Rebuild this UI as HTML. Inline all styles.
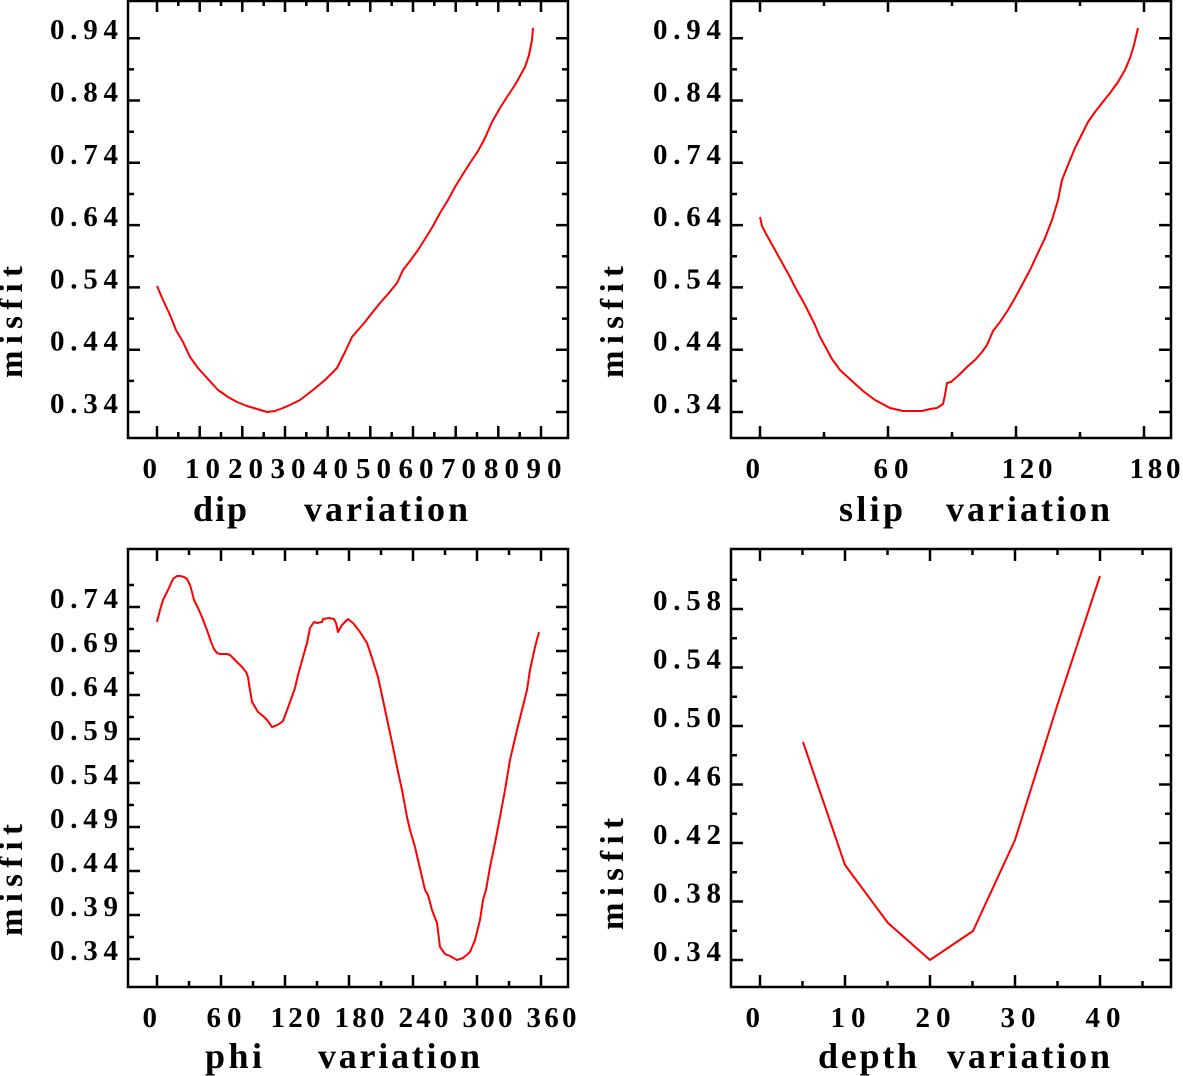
<!DOCTYPE html>
<html><head><meta charset="utf-8"><style>
html,body{margin:0;padding:0;background:#fff;}
svg{display:block;}
text{font-family:"Liberation Serif","DejaVu Serif",serif;font-weight:bold;fill:#000;}
.t{font-size:29px;}
.ti{font-size:36px;}
.m{font-size:33px;}
</style></head><body>
<svg width="1183" height="1076" viewBox="0 0 1183 1076" xmlns="http://www.w3.org/2000/svg">
<rect width="1183" height="1076" fill="#fff"/>
<g fill="none" stroke="#000" stroke-width="2.5">
<!-- boxes -->
<path d="M128,1 H568 V438 H128 Z"/>
<path d="M731,1 H1171 V438 H731 Z"/>
<path d="M128,549 H568 V987 H128 Z"/>
<path d="M731,549 H1171 V987 H731 Z"/>
<!-- TL y ticks -->
<path d="M128,412h12M128,349.7h12M128,287.4h12M128,225.1h12M128,162.8h12M128,100.5h12M128,38.2h12
M128,380.9h6M128,318.6h6M128,256.3h6M128,194h6M128,131.7h6M128,69.4h6
M568,412h-12M568,349.7h-12M568,287.4h-12M568,225.1h-12M568,162.8h-12M568,100.5h-12M568,38.2h-12
M568,380.9h-6M568,318.6h-6M568,256.3h-6M568,194h-6M568,131.7h-6M568,69.4h-6"/>
<!-- TL x ticks -->
<path d="M157,438v-12M199.7,438v-12M242.3,438v-12M285,438v-12M327.7,438v-12M370.3,438v-12M413,438v-12M455.7,438v-12M498.3,438v-12M541,438v-12
M178.3,438v-6M221,438v-6M263.7,438v-6M306.3,438v-6M349,438v-6M391.7,438v-6M434.3,438v-6M477,438v-6M519.7,438v-6
M157,0v12M199.7,0v12M242.3,0v12M285,0v12M327.7,0v12M370.3,0v12M413,0v12M455.7,0v12M498.3,0v12M541,0v12
M178.3,0v6M221,0v6M263.7,0v6M306.3,0v6M349,0v6M391.7,0v6M434.3,0v6M477,0v6M519.7,0v6"/>
<!-- TR y ticks -->
<path d="M731,412h12M731,349.7h12M731,287.4h12M731,225.1h12M731,162.8h12M731,100.5h12M731,38.2h12
M731,380.9h6M731,318.6h6M731,256.3h6M731,194h6M731,131.7h6M731,69.4h6
M1171,412h-12M1171,349.7h-12M1171,287.4h-12M1171,225.1h-12M1171,162.8h-12M1171,100.5h-12M1171,38.2h-12
M1171,380.9h-6M1171,318.6h-6M1171,256.3h-6M1171,194h-6M1171,131.7h-6M1171,69.4h-6"/>
<!-- TR x ticks -->
<path d="M760,438v-12M888,438v-12M1016,438v-12M1144,438v-12M824,438v-6M952,438v-6M1080,438v-6
M760,0v12M888,0v12M1016,0v12M1144,0v12M824,0v6M952,0v6M1080,0v6"/>
<!-- BL y ticks -->
<path d="M128,959h12M128,915h12M128,871h12M128,827h12M128,783h12M128,739h12M128,695h12M128,651h12M128,607h12
M128,937h6M128,893h6M128,849h6M128,805h6M128,761h6M128,717h6M128,673h6M128,629h6M128,585h6
M568,959h-12M568,915h-12M568,871h-12M568,827h-12M568,783h-12M568,739h-12M568,695h-12M568,651h-12M568,607h-12
M568,937h-6M568,893h-6M568,849h-6M568,805h-6M568,761h-6M568,717h-6M568,673h-6M568,629h-6M568,585h-6"/>
<!-- BL x ticks -->
<path d="M157,987v-12M221,987v-12M285,987v-12M349,987v-12M413,987v-12M477,987v-12M541,987v-12
M189,987v-6M253,987v-6M317,987v-6M381,987v-6M445,987v-6M509,987v-6
M157,549v12M221,549v12M285,549v12M349,549v12M413,549v12M477,549v12M541,549v12
M189,549v6M253,549v6M317,549v6M381,549v6M445,549v6M509,549v6"/>
<!-- BR y ticks -->
<path d="M731,960h12M731,901.5h12M731,843h12M731,784.5h12M731,726h12M731,667.5h12M731,609h12
M731,930.8h6M731,872.3h6M731,813.8h6M731,755.3h6M731,696.8h6M731,638.3h6M731,579.8h6
M1171,960h-12M1171,901.5h-12M1171,843h-12M1171,784.5h-12M1171,726h-12M1171,667.5h-12M1171,609h-12
M1171,930.8h-6M1171,872.3h-6M1171,813.8h-6M1171,755.3h-6M1171,696.8h-6M1171,638.3h-6M1171,579.8h-6"/>
<!-- BR x ticks -->
<path d="M760,987v-12M845,987v-12M930,987v-12M1015,987v-12M1100,987v-12
M802.5,987v-6M887.5,987v-6M972.5,987v-6M1057.5,987v-6M1142.5,987v-6
M760,549v12M845,549v12M930,549v12M1015,549v12M1100,549v12
M802.5,549v6M887.5,549v6M972.5,549v6M1057.5,549v6M1142.5,549v6"/>
</g>

<!-- curves -->
<g fill="none" stroke="#ff0000" stroke-width="2" stroke-linejoin="round">
<polyline points="157,286 163,300 170,315 176,330 183,342 190,357 198,368 207,378 218,390 228,397 237,402 247,406 257,409 267,412 275,411 283,408 292,404 300,400 313,390 325,380 337,368 345,352 352,337 358,330 365,322 372,313 380,303 388,294 397,283 403,270 410,261 418,250 425,239 433,226 440,213 448,200 455,187 463,174 470,163 478,151 485,138 492,122 500,108 507,97 515,85 520,76 525,67 529,55 532,40 533,28"/>
<polyline points="760,217 762,226 765,232 770,241 775,250 780,259 785,268 790,277 795,287 800,296 805,305 810,315 815,325 820,337 826,348 832,359 840,370 852,381 863,391 875,400 890,408 903,411 915,411 922,411 930,409 937,408 943,404 945,395 947,383 951,382 959,375 967,367 975,360 982,352 987,345 993,331 1000,322 1008,310 1015,298 1022,285 1030,270 1037,255 1045,238 1052,220 1058,200 1062,180 1068,165 1075,148 1082,134 1088,122 1095,112 1102,103 1110,93 1118,82 1125,70 1130,58 1134,45 1138,28"/>
<polyline points="157,622 160,610 163,600 168,590 173,579 177,576 180,576 184,577 187,579 190,585 192,592 194,600 198,608 202,617 205,625 208,633 211,642 214,649 217,653 220,654 223,654 227,654 230,655 234,659 238,663 242,667 246,672 248,677 249,684 250,690 251,696 252,702 255,707 258,712 263,716 267,720 270,724 272,727 275,726 279,724 283,721 286,713 290,702 295,688 298,675 303,657 307,643 310,628 314,622 317,623 322,622 323,619 329,618 334,619 336,623 338,632 342,625 348,619 353,623 360,632 367,643 372,658 378,677 383,700 390,733 393,747 397,767 402,790 407,817 410,830 415,847 418,860 422,877 425,890 428,895 432,910 437,923 440,947 445,954 450,956 457,960 463,958 470,952 475,940 480,920 483,900 486,890 490,867 495,843 500,817 505,790 510,760 517,730 522,710 527,690 530,670 535,647 539,632"/>
<polyline points="803,742 845,865 888,923 930,960 973,931 1015,840 1058,703 1100,576"/>
</g>

<!-- TL labels -->
<g class="t">
<text x="50" y="413" textLength="68" lengthAdjust="spacing">0.34</text>
<text x="50" y="350.7" textLength="68" lengthAdjust="spacing">0.44</text>
<text x="50" y="288.4" textLength="68" lengthAdjust="spacing">0.54</text>
<text x="50" y="226.1" textLength="68" lengthAdjust="spacing">0.64</text>
<text x="50" y="163.8" textLength="68" lengthAdjust="spacing">0.74</text>
<text x="50" y="101.5" textLength="68" lengthAdjust="spacing">0.84</text>
<text x="50" y="39.2" textLength="68" lengthAdjust="spacing">0.94</text>
<text x="142.5" y="478">0</text>
<text x="185" y="478" textLength="35" lengthAdjust="spacing">10</text>
<text x="228" y="478" textLength="35" lengthAdjust="spacing">20</text>
<text x="270.5" y="478" textLength="35" lengthAdjust="spacing">30</text>
<text x="313" y="478" textLength="35" lengthAdjust="spacing">40</text>
<text x="356" y="478" textLength="35" lengthAdjust="spacing">50</text>
<text x="398.5" y="478" textLength="35" lengthAdjust="spacing">60</text>
<text x="441" y="478" textLength="35" lengthAdjust="spacing">70</text>
<text x="484" y="478" textLength="35" lengthAdjust="spacing">80</text>
<text x="526.5" y="478" textLength="35" lengthAdjust="spacing">90</text>
</g>
<!-- TR labels -->
<g class="t">
<text x="653" y="413" textLength="68" lengthAdjust="spacing">0.34</text>
<text x="653" y="350.7" textLength="68" lengthAdjust="spacing">0.44</text>
<text x="653" y="288.4" textLength="68" lengthAdjust="spacing">0.54</text>
<text x="653" y="226.1" textLength="68" lengthAdjust="spacing">0.64</text>
<text x="653" y="163.8" textLength="68" lengthAdjust="spacing">0.74</text>
<text x="653" y="101.5" textLength="68" lengthAdjust="spacing">0.84</text>
<text x="653" y="39.2" textLength="68" lengthAdjust="spacing">0.94</text>
<text x="745.5" y="478">0</text>
<text x="873.5" y="478" textLength="35" lengthAdjust="spacing">60</text>
<text x="1001.5" y="478" textLength="51" lengthAdjust="spacing">120</text>
<text x="1129.5" y="478" textLength="51" lengthAdjust="spacing">180</text>
</g>
<!-- BL labels -->
<g class="t">
<text x="50" y="960" textLength="68" lengthAdjust="spacing">0.34</text>
<text x="50" y="916" textLength="68" lengthAdjust="spacing">0.39</text>
<text x="50" y="872" textLength="68" lengthAdjust="spacing">0.44</text>
<text x="50" y="828" textLength="68" lengthAdjust="spacing">0.49</text>
<text x="50" y="784" textLength="68" lengthAdjust="spacing">0.54</text>
<text x="50" y="740" textLength="68" lengthAdjust="spacing">0.59</text>
<text x="50" y="696" textLength="68" lengthAdjust="spacing">0.64</text>
<text x="50" y="652" textLength="68" lengthAdjust="spacing">0.69</text>
<text x="50" y="608" textLength="68" lengthAdjust="spacing">0.74</text>
<text x="142.5" y="1027">0</text>
<text x="206.5" y="1027" textLength="35" lengthAdjust="spacing">60</text>
<text x="270.5" y="1027" textLength="50" lengthAdjust="spacing">120</text>
<text x="334.5" y="1027" textLength="50" lengthAdjust="spacing">180</text>
<text x="398.5" y="1027" textLength="50" lengthAdjust="spacing">240</text>
<text x="462.5" y="1027" textLength="50" lengthAdjust="spacing">300</text>
<text x="526.5" y="1027" textLength="50" lengthAdjust="spacing">360</text>
</g>
<!-- BR labels -->
<g class="t">
<text x="653" y="961" textLength="68" lengthAdjust="spacing">0.34</text>
<text x="653" y="902.5" textLength="68" lengthAdjust="spacing">0.38</text>
<text x="653" y="844" textLength="68" lengthAdjust="spacing">0.42</text>
<text x="653" y="785.5" textLength="68" lengthAdjust="spacing">0.46</text>
<text x="653" y="727" textLength="68" lengthAdjust="spacing">0.50</text>
<text x="653" y="668.5" textLength="68" lengthAdjust="spacing">0.54</text>
<text x="653" y="610" textLength="68" lengthAdjust="spacing">0.58</text>
<text x="745.5" y="1027">0</text>
<text x="830.5" y="1027" textLength="35" lengthAdjust="spacing">10</text>
<text x="915.5" y="1027" textLength="35" lengthAdjust="spacing">20</text>
<text x="1000.5" y="1027" textLength="35" lengthAdjust="spacing">30</text>
<text x="1085.5" y="1027" textLength="35" lengthAdjust="spacing">40</text>
</g>

<!-- axis titles -->
<g class="ti">
<text x="193" y="521" textLength="54" lengthAdjust="spacing">dip</text>
<text x="304" y="521" textLength="164" lengthAdjust="spacing">variation</text>
<text x="839" y="521" textLength="64" lengthAdjust="spacing">slip</text>
<text x="946" y="521" textLength="164" lengthAdjust="spacing">variation</text>
<text x="205" y="1068" textLength="57" lengthAdjust="spacing">phi</text>
<text x="318" y="1068" textLength="162" lengthAdjust="spacing">variation</text>
<text x="818" y="1068" textLength="99" lengthAdjust="spacing">depth</text>
<text x="947" y="1068" textLength="163" lengthAdjust="spacing">variation</text>
</g>
<g class="m">
<text transform="translate(22,378) rotate(-90)" textLength="112" lengthAdjust="spacing">misfit</text>
<text transform="translate(623,378) rotate(-90)" textLength="112" lengthAdjust="spacing">misfit</text>
<text transform="translate(22,936) rotate(-90)" textLength="112" lengthAdjust="spacing">misfit</text>
<text transform="translate(623,930) rotate(-90)" textLength="112" lengthAdjust="spacing">misfit</text>
</g>
</svg>
</body></html>
